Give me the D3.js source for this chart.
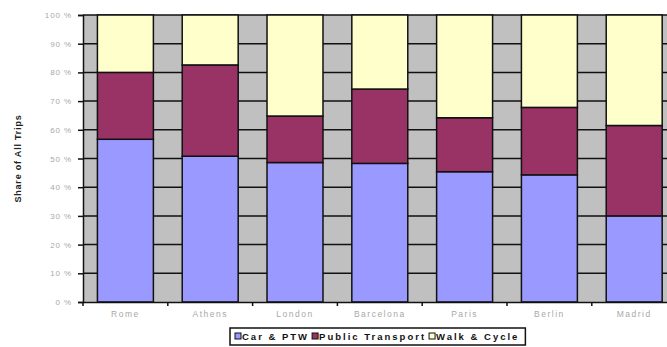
<!DOCTYPE html>
<html>
<head>
<meta charset="utf-8">
<script src="https://cdn.jsdelivr.net/npm/d3@7"></script>
<style>
  body { margin: 0; background: #fff; }
  svg { display: block; font-family: "Liberation Sans", Arial, sans-serif; }
</style>
</head>
<body>
<svg id="chart" width="667" height="347"></svg>
<script>
// data
const cities = ['Rome', 'Athens', 'London', 'Barcelona', 'Paris', 'Berlin', 'Madrid'];
const carPtw = [56.7, 50.8, 48.6, 48.3, 45.4, 44.3, 30.0];
const publicTransport = [23.3, 31.8, 16.2, 25.9, 18.8, 23.5, 31.5];
const walkCycle = [20.0, 17.4, 35.2, 25.8, 35.8, 32.2, 38.5];
const seriesNames = ['Car & PTW', 'Public Transport', 'Walk & Cycle'];
const yTicks = [0, 10, 20, 30, 40, 50, 60, 70, 80, 90, 100];

const colors = d3.scaleOrdinal()
    .domain(seriesNames)
    .range(['#9999ff', '#993366', '#ffffcc']);

const rows = cities.map((c, i) => ({
    city: c,
    'Car & PTW': carPtw[i],
    'Public Transport': publicTransport[i],
    'Walk & Cycle': walkCycle[i]
}));
const stacked = d3.stack().keys(seriesNames)(rows);

const svg = d3.select('#chart');
const plotLeft = 83, plotTop = 15, plotBottom = 302;
const step = 84.8;
const plotRight = plotLeft + step * cities.length;

const x = d3.scaleBand()
    .domain(cities)
    .range([plotLeft, plotRight])
    .paddingInner(0.34)
    .paddingOuter(0.17);

const y = d3.scaleLinear()
    .domain([0, 100])
    .range([plotBottom, plotTop]);

// plot background
svg.append('rect')
    .attr('x', plotLeft)
    .attr('y', plotTop)
    .attr('width', plotRight - plotLeft)
    .attr('height', plotBottom - plotTop)
    .attr('fill', '#c0c0c0');

// gridlines
svg.append('g')
    .selectAll('line')
    .data(yTicks.slice(1))
    .join('line')
    .attr('x1', plotLeft)
    .attr('x2', plotRight)
    .attr('y1', d => y(d))
    .attr('y2', d => y(d))
    .attr('stroke', '#111')
    .attr('stroke-width', 1.5);

// stacked bars
svg.append('g')
    .selectAll('g')
    .data(stacked)
    .join('g')
    .attr('fill', d => colors(d.key))
    .selectAll('rect')
    .data(d => d)
    .join('rect')
    .attr('x', d => x(d.data.city))
    .attr('width', x.bandwidth())
    .attr('y', d => y(d[1]))
    .attr('height', d => y(d[0]) - y(d[1]))
    .attr('stroke', '#111')
    .attr('stroke-width', 1.5);

// y axis
const yAxis = svg.append('g')
    .attr('transform', `translate(${plotLeft},0)`)
    .call(d3.axisLeft(y).tickValues(yTicks).tickFormat(d => d + ' %').tickSize(5).tickPadding(6));
yAxis.select('.domain').attr('stroke', '#111').attr('stroke-width', 1.5);
yAxis.selectAll('.tick line').attr('stroke', '#111').attr('stroke-width', 1.5);
yAxis.selectAll('.tick text')
    .attr('fill', '#a8a8a8')
    .style('font-size', '8px')
    .style('letter-spacing', '0.9px');

// x axis
const xAxis = svg.append('g')
    .attr('transform', `translate(0,${plotBottom})`)
    .call(d3.axisBottom(x).tickSize(0).tickPadding(9));
xAxis.select('.domain').attr('stroke', '#111').attr('stroke-width', 1.5);
xAxis.selectAll('.tick text')
    .attr('fill', '#a8a8a8')
    .style('font-size', '8.5px')
    .style('letter-spacing', '1.5px');

// category boundary ticks
const bounds = d3.range(cities.length + 1).map(i => plotLeft + i * x.step());
svg.append('g')
    .selectAll('line')
    .data(bounds)
    .join('line')
    .attr('x1', d => d)
    .attr('x2', d => d)
    .attr('y1', plotBottom)
    .attr('y2', plotBottom + 4)
    .attr('stroke', '#111')
    .attr('stroke-width', 1.5);

// y title
svg.append('text')
    .attr('transform', `translate(21,${(plotTop + plotBottom) / 2}) rotate(-90)`)
    .attr('text-anchor', 'middle')
    .attr('fill', '#222')
    .style('font-size', '9px')
    .style('font-weight', 'bold')
    .style('letter-spacing', '0.8px')
    .text('Share of All Trips');

// legend
const legend = svg.append('g');
const legendBox = legend.append('rect')
    .attr('y', 328)
    .attr('height', 17)
    .attr('fill', '#fff')
    .attr('stroke', '#111')
    .attr('stroke-width', 1.5);

let cx = 235;
seriesNames.forEach(name => {
    legend.append('rect')
        .attr('x', cx)
        .attr('y', 333)
        .attr('width', 6)
        .attr('height', 6)
        .attr('fill', colors(name))
        .attr('stroke', '#111')
        .attr('stroke-width', 1);
    const t = legend.append('text')
        .attr('x', cx + 7)
        .attr('y', 340)
        .attr('fill', '#111')
        .style('font-size', '9.5px')
        .style('font-weight', 'bold')
        .style('letter-spacing', '2px')
        .text(name);
    cx += 7 + t.node().getComputedTextLength() + 3;
});
legendBox.attr('x', 230).attr('width', cx - 230 + 3);
</script>
</body>
</html>
